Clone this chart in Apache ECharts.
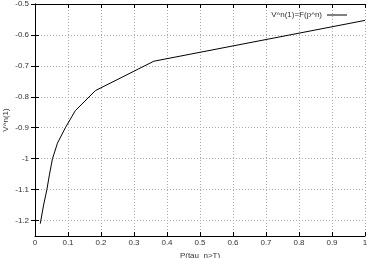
<!DOCTYPE html>
<html><head><meta charset="utf-8">
<script src="https://cdn.jsdelivr.net/npm/echarts@6/dist/echarts.min.js"></script>
<style>html,body{margin:0;padding:0;background:#fff}#c{width:368px;height:258px}</style>
</head><body><div id="c"></div>
<script>
var xVals = [0.016, 0.026, 0.036, 0.044, 0.053, 0.068, 0.092, 0.122, 0.183, 0.36, 1.0];
var yVals = [-1.21, -1.15, -1.1, -1.05, -1.0, -0.95, -0.9, -0.845, -0.78, -0.685, -0.553];
var yTicks = [-1.2, -1.1, -1, -0.9, -0.8, -0.7, -0.6, -0.5];
var seriesName = 'V^n(1)=F(p^n)';
var xTitle = 'P(tau  n>T)';
var yTitle = 'V^n(1)';

var chart = echarts.init(document.getElementById('c'));
var font = {fontFamily: 'Liberation Sans', fontSize: 8, color: '#333'};
var data = xVals.map(function (x, i) { return [x, yVals[i]]; });
var gridLine = {show: true, lineStyle: {color: '#aaa', type: [1, 2], width: 1}};
chart.setOption({
  animation: false,
  grid: {left: 35, right: 3, top: 4, bottom: 22, outerBoundsMode: 'none', containLabel: false},
  legend: {
    show: true, right: 16, top: 6, itemWidth: 20, itemHeight: 8, itemGap: 4,
    align: 'right', icon: 'path://M0,0L20,0L20,1L0,1Z',
    textStyle: font, data: [{name: seriesName, itemStyle: {color: '#000'}}]
  },
  xAxis: [{
    type: 'value', min: 0, max: 1, interval: 0.1,
    name: xTitle, nameLocation: 'middle', nameGap: 3, nameTextStyle: font,
    axisLine: {show: true, lineStyle: {color: '#000', width: 1}},
    axisTick: {show: true, inside: true, length: 4, lineStyle: {color: '#000'}},
    axisLabel: Object.assign({margin: 3, formatter: function (v) { return +v.toFixed(1); }}, font),
    splitLine: gridLine
  }, {
    type: 'value', min: 0, max: 1, interval: 0.1, position: 'top',
    axisLine: {show: true, lineStyle: {color: '#000', width: 1}},
    axisTick: {show: true, inside: true, length: 4, lineStyle: {color: '#000'}},
    axisLabel: {show: false}, splitLine: {show: false}
  }],
  yAxis: [{
    type: 'value', min: -1.25, max: -0.5,
    name: yTitle, nameLocation: 'middle', nameGap: 29, nameRotate: 90, nameMoveOverlap: false,
    nameTextStyle: Object.assign({verticalAlign: 'middle'}, font),
    axisLine: {show: true, lineStyle: {color: '#000', width: 1}},
    axisTick: {show: true, inside: true, length: 4, customValues: yTicks, lineStyle: {color: '#000'}},
    axisLabel: Object.assign({margin: 6, customValues: yTicks, formatter: function (v) {
      return String(+(+v).toFixed(1));
    }}, font),
    splitLine: gridLine
  }, {
    type: 'value', min: -1.25, max: -0.5, position: 'right',
    axisLine: {show: true, lineStyle: {color: '#000', width: 1}},
    axisTick: {show: true, inside: true, length: 4, customValues: yTicks, lineStyle: {color: '#000'}},
    axisLabel: {show: false}, splitLine: {show: false}
  }],
  series: [{
    name: seriesName, type: 'line', data: data, symbol: 'none',
    lineStyle: {color: '#000', width: 1}, itemStyle: {color: '#000'}
  }]
});
</script></body></html>
